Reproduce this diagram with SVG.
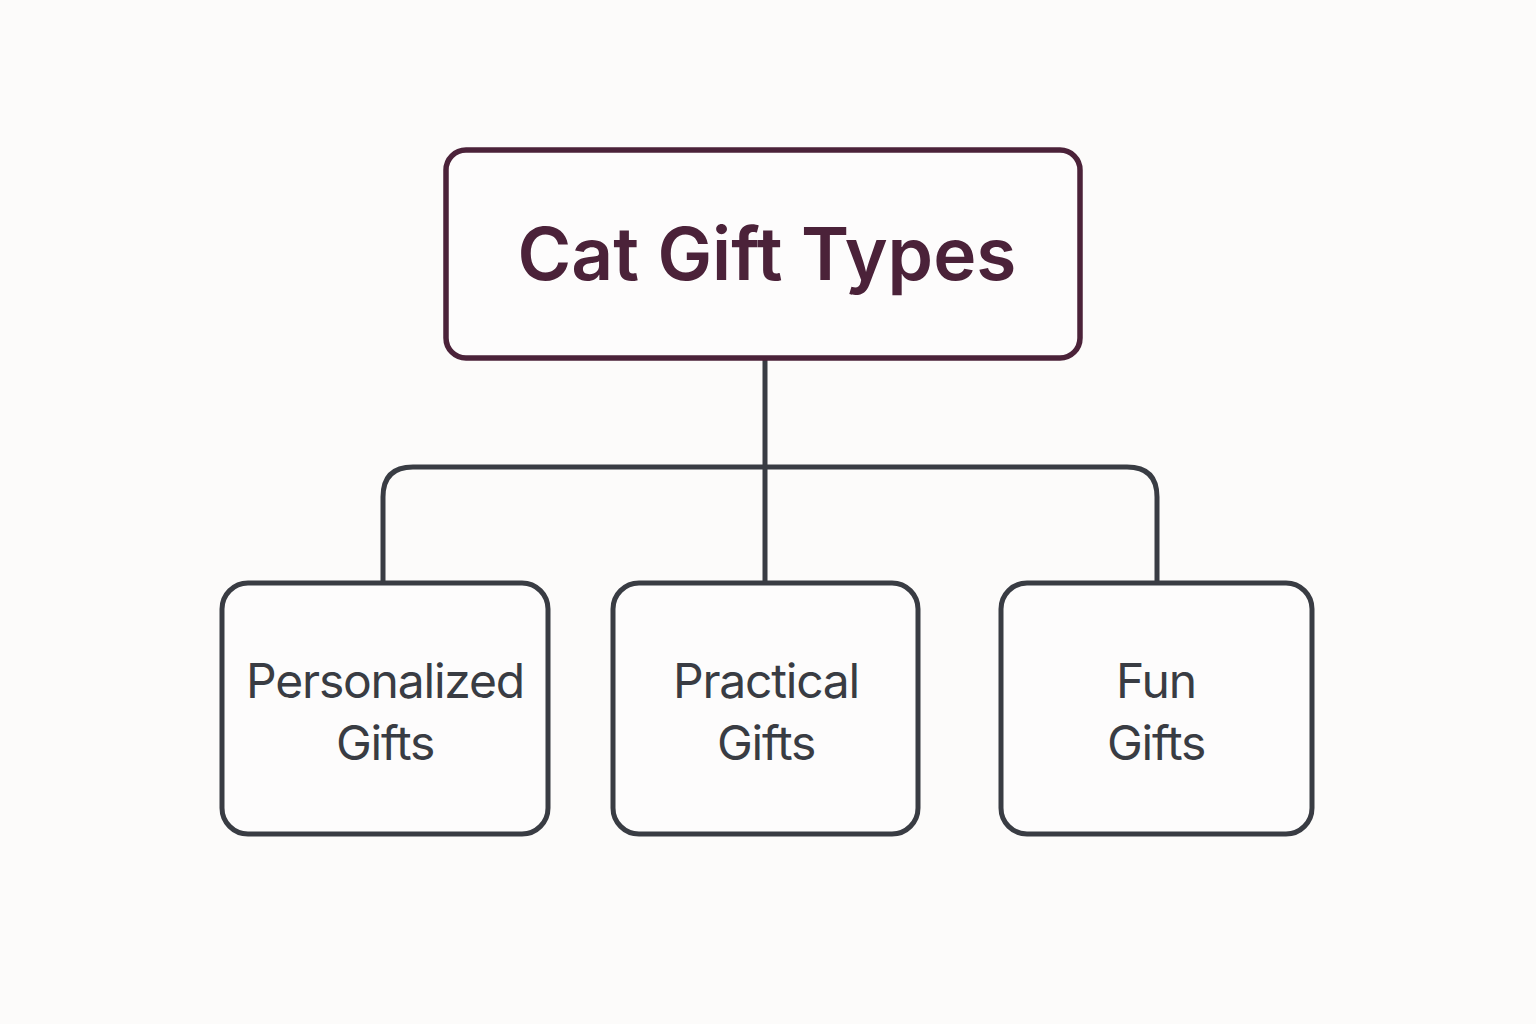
<svg xmlns="http://www.w3.org/2000/svg" width="1536" height="1024" viewBox="0 0 1536 1024">
<style>
.bg{fill:#fcfbfa}
.root{fill:#fdfcfc;stroke:#4b2239;stroke-width:5.5}
.child{fill:#fdfcfc;stroke:#393c43;stroke-width:5}
.conn{fill:none;stroke:#393c43;stroke-width:5;stroke-linejoin:round}
.title{font-family:Inter,"Liberation Sans",sans-serif;font-weight:600;font-size:73px;fill:#4b2239;text-anchor:middle}
.lbl{font-family:Inter,"Liberation Sans",sans-serif;font-weight:400;font-size:48px;letter-spacing:-1.2px;fill:#393c43;text-anchor:middle}
</style>
<rect class="bg" x="0" y="0" width="1536" height="1024"/>
<g id="connectors">
<path class="conn" d="M765 358 V583"/>
<path class="conn" d="M383 583 V497 Q383 467 413 467 H1127 Q1157 467 1157 497 V583"/>
</g>
<g id="root">
<rect class="root" x="446" y="150" width="634" height="208" rx="20"/>
<text class="title" x="767" y="280">Cat Gift Types</text>
</g>
<g id="personalized">
<rect class="child" x="222" y="583" width="326" height="251" rx="26"/>
<text class="lbl" x="385" y="698">Personalized</text>
<text class="lbl" x="385" y="760">Gifts</text>
</g>
<g id="practical">
<rect class="child" x="613" y="583" width="305" height="251" rx="26"/>
<text class="lbl" x="766" y="698">Practical</text>
<text class="lbl" x="766" y="760">Gifts</text>
</g>
<g id="fun">
<rect class="child" x="1001" y="583" width="311" height="251" rx="26"/>
<text class="lbl" x="1156" y="698">Fun</text>
<text class="lbl" x="1156" y="760">Gifts</text>
</g>
</svg>
